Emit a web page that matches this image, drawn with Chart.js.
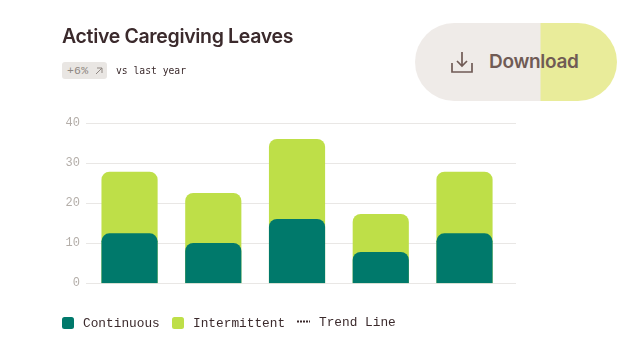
<!DOCTYPE html>
<html><head><meta charset="utf-8">
<style>
html,body{margin:0;padding:0;background:#fff;width:617px;height:359px;overflow:hidden}
#wrap{position:relative;width:617px;height:359px}
canvas{position:absolute;left:0;top:0}
.abs{position:absolute;white-space:nowrap}
#title{left:62px;top:23px;font:600 19.5px/26px Inter,sans-serif;color:#3b2a2c;letter-spacing:-.33px}
#badge{left:62px;top:62px;width:45px;height:17px;background:#e9e6e3;border-radius:3px;font:11.5px/17px "Liberation Mono",monospace;color:#8f8782;text-indent:5px;letter-spacing:.2px}
#vs{left:116px;top:63px;font:400 9.7px/16px "DejaVu Sans Mono",monospace;color:#3b2a2c}
#btn{left:415px;top:23px;width:202px;height:78px;border-radius:39px;background:linear-gradient(90deg,#efebe8 0,#efebe8 125px,#e9ec9a 126px,#e9ec9a 100%)}
#dl{left:489px;top:49px;font:600 19px/26px Inter,sans-serif;color:#705b55;letter-spacing:-.3px}
.sw{position:absolute;width:12px;height:12px;border-radius:2.5px;top:317px}
.lg{top:316px;font:12.8px/16px "Liberation Mono",monospace;color:#3b2a2c}
</style></head><body>
<div id="wrap">
<canvas id="c" width="617" height="359"></canvas>
<div class="abs" id="title">Active Caregiving Leaves</div>
<div class="abs" id="badge">+6%</div>
<svg class="abs" style="left:95px;top:67px" width="8" height="8" viewBox="0 0 8 8" fill="none" stroke="#8f8782" stroke-width="1"><path d="M1 7L7 1M2 1h5v5"/></svg>
<div class="abs" id="vs">vs last year</div>
<div class="abs" id="btn"></div>
<svg class="abs" style="left:451px;top:51px" width="22" height="22" viewBox="0 0 22 22" fill="none" stroke="#705b55" stroke-width="1.7">
<path d="M1 12v9h20v-9M11 1v14M6 10l5 5 5-5"/></svg>
<div class="abs" id="dl">Download</div>
<div class="sw" style="left:62px;background:#00796b"></div>
<div class="abs lg" style="left:83px">Continuous</div>
<div class="sw" style="left:172px;background:#bedf48"></div>
<div class="abs lg" style="left:193px">Intermittent</div>
<svg class="abs" style="left:297px;top:320px" width="14" height="4"><line x1="0" y1="1.5" x2="13" y2="1.5" stroke="#3b2a2c" stroke-width="2" stroke-dasharray="2 1"/></svg>
<div class="abs lg" style="left:319px;top:315px">Trend Line</div>
</div>
<script src="https://cdn.jsdelivr.net/npm/chart.js@4/dist/chart.umd.min.js"></script>
<script>
const categories = [0, 1, 2, 3, 4];
const continuous = [12.4, 10, 16, 7.75, 12.4];
const intermittent = [15.4, 12.5, 20, 9.5, 15.4];
const yTicks = [0, 10, 20, 30, 40];

const totals = continuous.map((v, i) => v + intermittent[i]);
const pts = arr => arr.map((v, i) => ({x: categories[i], y: v}));
const radius = {topLeft: 8, topRight: 8, bottomLeft: 0, bottomRight: 0};

new Chart(document.getElementById('c'), {
  type: 'bar',
  data: {
    datasets: [
      {label: 'Continuous', data: pts(continuous), backgroundColor: '#00796b', borderRadius: radius, borderSkipped: false, order: 1, grouped: false, barThickness: 55.5},
      {label: 'Intermittent', data: pts(totals), backgroundColor: '#bedf48', borderRadius: radius, borderSkipped: false, order: 2, grouped: false, barThickness: 55.5}
    ]
  },
  options: {
    responsive: false,
    animation: false,
    layout: {padding: {left: 36, right: 101, top: 123.3, bottom: 75.7}},
    plugins: {legend: {display: false}, tooltip: {enabled: false}, title: {display: false}},
    scales: {
      x: {type: 'linear', bounds: 'data', offset: false, display: false, min: -0.52, max: 4.615, grid: {display: false}},
      y: {
        min: 0, max: 40,
        afterFit: s => { s.width = 50; },
        afterBuildTicks: s => { s.ticks = yTicks.map(v => ({value: v})); },
        border: {display: false},
        grid: {color: '#e9e7e5', lineWidth: 1, drawTicks: false},
        ticks: {padding: 6, color: '#b4aea9', font: {family: '"Liberation Mono", monospace', size: 12}}
      }
    }
  }
});
</script>
</body></html>
